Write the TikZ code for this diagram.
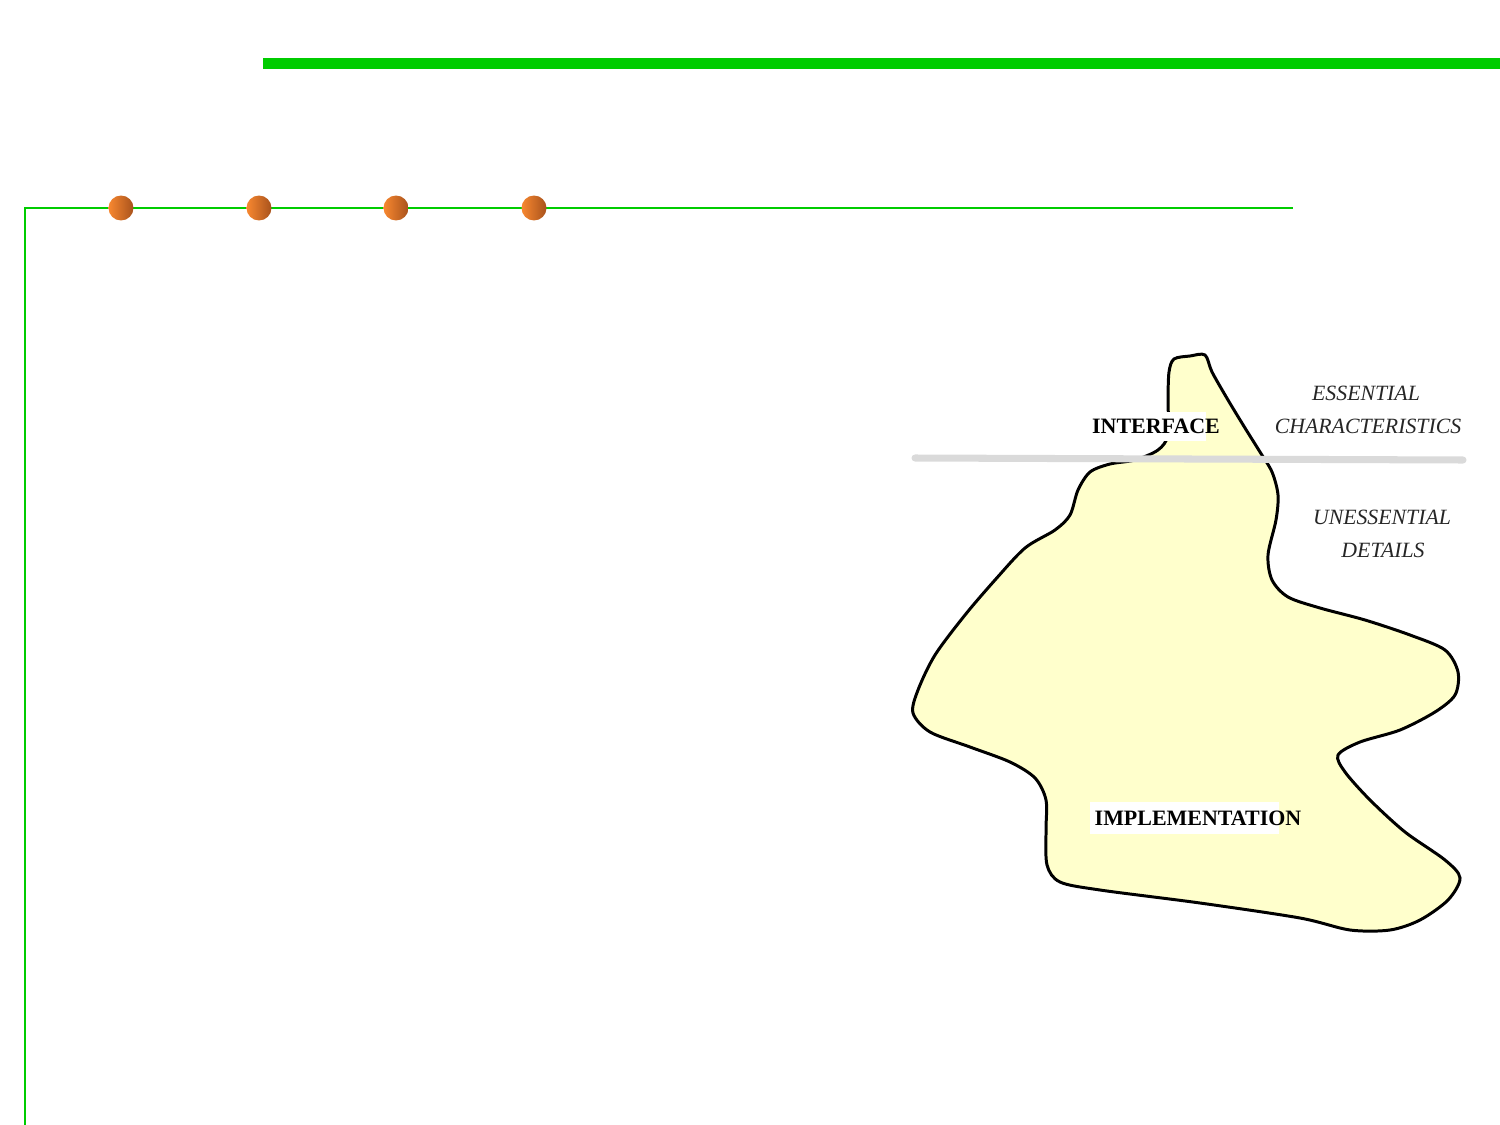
\documentclass[tikz,border=0pt]{standalone}
\usepackage{fontspec}
\setmainfont{Liberation Serif}
\definecolor{grn}{RGB}{0,204,0}
\definecolor{blobfill}{RGB}{255,255,204}
\definecolor{orangeL}{RGB}{248,136,48}
\definecolor{orangeR}{RGB}{168,82,28}
\definecolor{seagrey}{RGB}{218,218,218}
\begin{document}
\begin{tikzpicture}[x=0.02cm,y=-0.02cm,
  dot/.style={circle,minimum size=0.5cm,inner sep=0pt,left color=orangeL,right color=orangeR,draw=none},
  boldlabel/.style={inner sep=0pt,font=\fontsize{12.5}{15}\selectfont\bfseries},
  itlabel/.style={inner sep=0pt,font=\fontsize{12.4}{15}\selectfont\itshape,text=black!85},
  outline/.style={draw=black,line width=1.7pt,fill=blobfill}]
\useasboundingbox (0,0) rectangle (1500,1125);
% top bar
\fill[grn] (263,58) rectangle (1500,69);
% frame line
\coordinate (fb) at (25,1125);
\coordinate (fc) at (25,208);
\coordinate (fe) at (1293,208);
\draw[grn,line width=1.2pt] (fb) -- (fc) -- (fe);
% dots
\node[dot] (d1) at (121,208) {};
\node[dot] (d2) at (259,208) {};
\node[dot] (d3) at (396,208) {};
\node[dot] (d4) at (534,208) {};
% blob
\draw[outline] plot[smooth cycle,tension=0.5] coordinates {
(1174,359) (1190,356) (1205,355)
(1212,372) (1228,400) (1245,428) (1260,452) (1272,472) (1278,495) (1276,520) (1268,555) (1272,580) (1288,597) (1320,608) (1365,620) (1410,635) (1445,650) (1458,672) (1455,695) (1435,712) (1400,730) (1360,742) (1338,755) (1345,772) (1370,800) (1405,832) (1445,860) (1460,878) (1448,900) (1420,920) (1390,930) (1350,930) (1300,918) (1200,903) (1100,890) (1060,882) (1047,865) (1046,830) (1046,800) (1035,778) (1010,762) (970,747) (930,732) (913,713) (918,690) (935,655) (965,615) (995,580) (1025,548) (1055,530) (1070,515) (1078,490) (1090,472) (1110,464) (1135,460) (1158,450) (1168,435) (1168,400) (1169,372)};
% white text patches
\fill[white] (1086,412) rectangle (1206,441);
\fill[white] (1090,802) rectangle (1279,834);
% sea level line
\coordinate (sl) at (915,458);
\coordinate (sr) at (1463,460);
\draw[seagrey,line width=4pt,line cap=round] (sl) -- (sr);
% labels
\node[boldlabel] (interface) at (1156,426) {INTERFACE};
\node[boldlabel] (impl) at (1198,818) {IMPLEMENTATION};
\node[itlabel] (ess) at (1366,393) {ESSENTIAL};
\node[itlabel] (chars) at (1368,426) {CHARACTERISTICS};
\node[itlabel] (uness) at (1382,517) {UNESSENTIAL};
\node[itlabel] (details) at (1383,550) {DETAILS};
\end{tikzpicture}
\end{document}
